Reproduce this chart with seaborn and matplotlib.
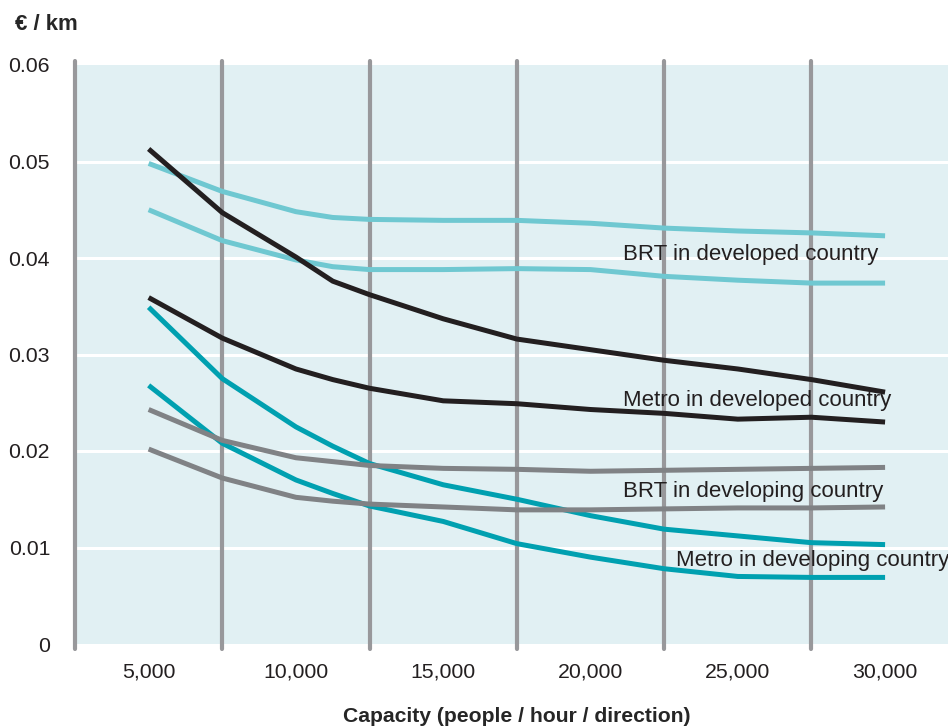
import matplotlib
matplotlib.use("Agg")
import matplotlib.pyplot as plt
import seaborn as sns

# Capacity (people / hour / direction)
capacity = [5000, 7500, 10000, 11250, 12500, 15000, 17500, 20000, 22500, 25000, 27500, 30000]

# cost in euro per km, two bounds per mode
brt_developed_hi = [0.0498, 0.0469, 0.0448, 0.0442, 0.0440, 0.0439, 0.0439, 0.0436, 0.0431, 0.0428, 0.0426, 0.0423]
brt_developed_lo = [0.0450, 0.0418, 0.0398, 0.0391, 0.0388, 0.0388, 0.0389, 0.0388, 0.0381, 0.0377, 0.0374, 0.0374]
metro_developed_hi = [0.0513, 0.0447, 0.0401, 0.0376, 0.0362, 0.0337, 0.0316, 0.0305, 0.0294, 0.0285, 0.0274, 0.0261]
metro_developed_lo = [0.0359, 0.0317, 0.0285, 0.0274, 0.0265, 0.0252, 0.0249, 0.0243, 0.0239, 0.0233, 0.0235, 0.0230]
metro_developing_hi = [0.0349, 0.0275, 0.0225, 0.0205, 0.0187, 0.0165, 0.0150, 0.0133, 0.0119, 0.0112, 0.0105, 0.0103]
metro_developing_lo = [0.0268, 0.0208, 0.0170, 0.0156, 0.0143, 0.0127, 0.0104, 0.0090, 0.0078, 0.0070, 0.0069, 0.0069]
brt_developing_hi = [0.0243, 0.0211, 0.0193, 0.0189, 0.0185, 0.0182, 0.0181, 0.0179, 0.0180, 0.0181, 0.0182, 0.0183]
brt_developing_lo = [0.0202, 0.0172, 0.0152, 0.0148, 0.0145, 0.0142, 0.0139, 0.0139, 0.0140, 0.0141, 0.0141, 0.0142]

labels = ["BRT in developed country", "Metro in developed country",
          "BRT in developing country", "Metro in developing country"]
label_x = [21100, 21100, 21100, 22900]
label_y = [0.0404, 0.0252, 0.0158, 0.0087]

x_ticks = [5000, 10000, 15000, 20000, 25000, 30000]
y_ticks = [0, 0.01, 0.02, 0.03, 0.04, 0.05, 0.06]
dividers = [2500, 7500, 12500, 17500, 22500, 27500]

sns.set_style("white")
plt.rcParams['font.family'] = ['Liberation Sans', 'DejaVu Sans']

fig = plt.figure(figsize=(9.48, 7.26), dpi=100)
ax = fig.add_axes([75 / 948, 1 - 644 / 726, 1 - 75 / 948, (644 - 65) / 726])
ax.set_facecolor("#e1f0f3")

for v in y_ticks[1:-1]:
    ax.axhline(v, color="white", lw=2.2, zorder=1)
for d in dividers:
    ax.axvline(d, ymin=-0.008, ymax=1.007, color="#98989b", lw=3, zorder=2, clip_on=False)

series = [
    (brt_developed_hi, "#6fc8d1"), (brt_developed_lo, "#6fc8d1"),
    (metro_developed_hi, "#231f20"), (metro_developed_lo, "#231f20"),
    (metro_developing_hi, "#00a0b0"), (metro_developing_lo, "#00a0b0"),
    (brt_developing_hi, "#808285"), (brt_developing_lo, "#808285"),
]
for vals, col in series:
    sns.lineplot(x=capacity, y=vals, color=col, lw=3.6, ax=ax, zorder=3,
                 solid_capstyle="butt", solid_joinstyle="round")

for txt, tx, ty in zip(labels, label_x, label_y):
    ax.text(tx, ty, txt, fontsize=16, color="#231f20", va="center", ha="left", zorder=4)

ax.set_xlim(2500, 32136)
ax.set_ylim(0, 0.06)
ax.set_xticks(x_ticks)
ax.set_xticklabels([f"{t:,}" for t in x_ticks])
ax.set_yticks(y_ticks)
ax.set_yticklabels(["0", "0.01", "0.02", "0.03", "0.04", "0.05", "0.06"])
ax.tick_params(axis="both", length=0, labelsize=15.3, labelcolor="#231f20")
ax.tick_params(axis="y", pad=18)
ax.tick_params(axis="x", pad=13)
for s in ax.spines.values():
    s.set_visible(False)

fig.text(15 / 948, 1 - 25 / 726, "€ / km", fontsize=16, fontweight="bold", va="center", ha="left")
fig.text(517 / 948, 1 - 717 / 726, "Capacity (people / hour / direction)", fontsize=15.2,
         fontweight="bold", va="center", ha="center")

fig.savefig("out.png", dpi=100)
